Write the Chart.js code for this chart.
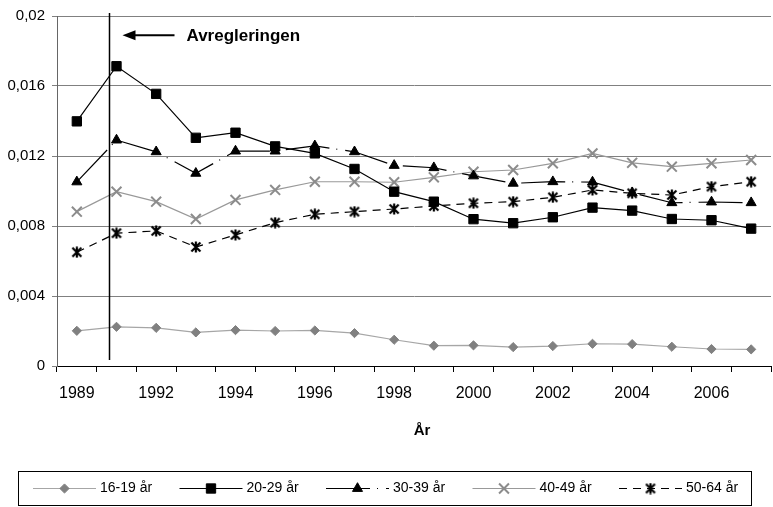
<!DOCTYPE html>
<html>
<head>
<meta charset="utf-8">
<script src="https://cdn.jsdelivr.net/npm/chart.js@4/dist/chart.umd.min.js"></script>
<style>
  html, body { margin: 0; padding: 0; background: #fff; overflow: hidden; }
  #wrap { width: 780px; height: 507px; }
</style>
</head>
<body>
<div id="wrap"><canvas id="chart" width="780" height="507"></canvas></div>
<script>
// years (1990 missing in the source series)
const years = ['1989', '1991', '1992', '1993', '1994', '1995', '1996', '1997', '1998',
    '1999', '2000', '2001', '2002', '2003', '2004', '2005', '2006', '2007'];

const age16_19 = [0.00201, 0.00224, 0.00218, 0.00192, 0.00205, 0.00200, 0.00203, 0.00188, 0.00150,
    0.00116, 0.00118, 0.00108, 0.00114, 0.00127, 0.00125, 0.00110, 0.00097, 0.00095];
const age20_29 = [0.01398, 0.01713, 0.01555, 0.01304, 0.01333, 0.01255, 0.01215, 0.01126, 0.00996,
    0.00939, 0.00839, 0.00816, 0.00850, 0.00905, 0.00888, 0.00840, 0.00833, 0.00785];
const age30_39 = [0.01052, 0.01291, 0.01224, 0.01101, 0.01228, 0.01228, 0.01258, 0.01224, 0.01146,
    0.01133, 0.01086, 0.01044, 0.01053, 0.01051, 0.00990, 0.00933, 0.00937, 0.00933];
const age40_49 = [0.00882, 0.00996, 0.00939, 0.00840, 0.00949, 0.01006, 0.01053, 0.01053, 0.01050,
    0.01078, 0.01110, 0.01120, 0.01158, 0.01215, 0.01161, 0.01139, 0.01158, 0.01177];
const age50_64 = [0.00650, 0.00759, 0.00772, 0.00680, 0.00749, 0.00819, 0.00867, 0.00882, 0.00897,
    0.00914, 0.00930, 0.00939, 0.00964, 0.01006, 0.00987, 0.00977, 0.01025, 0.01053];

const yTicks = [0, 0.004, 0.008, 0.012, 0.016, 0.02];

// deregulation marker sits between 1989 and 1991 (as category fraction)
const reformAt = 0.82;
const reformLabel = 'Avregleringen';

const FONT = '"Liberation Sans", Arial, sans-serif';

// excel-ish asterisk marker: X plus vertical bar
function makeStar(size, color) {
    const c = document.createElement('canvas');
    c.width = size; c.height = size;
    const g = c.getContext('2d');
    g.strokeStyle = color;
    g.lineWidth = 2.2;
    const m = 1.5, e = size - 1.5;
    g.beginPath();
    g.moveTo(m, m); g.lineTo(e, e);
    g.moveTo(e, m); g.lineTo(m, e);
    g.moveTo(size / 2, 0.5); g.lineTo(size / 2, size - 0.5);
    g.stroke();
    return c;
}
const star = makeStar(12, '#000');

const datasets = [
    { label: '16-19 år', data: age16_19, borderColor: '#a6a6a6', borderWidth: 1.2,
      pointStyle: 'rectRot', pointRadius: 4.6, pointBackgroundColor: '#808080', pointBorderColor: '#808080', pointBorderWidth: 1 },
    { label: '20-29 år', data: age20_29, borderColor: '#000', borderWidth: 1.2,
      pointStyle: 'rect', pointRadius: 6.6, pointBackgroundColor: '#000', pointBorderColor: '#000', pointBorderWidth: 1 },
    { label: '30-39 år', data: age30_39, borderColor: '#000', borderWidth: 1.2, borderDash: [44, 7, 1, 8],
      pointStyle: 'triangle', pointRadius: 5.8, pointBackgroundColor: '#000', pointBorderColor: '#000', pointBorderWidth: 1 },
    { label: '40-49 år', data: age40_49, borderColor: '#999', borderWidth: 1.2,
      pointStyle: 'crossRot', pointRadius: 7, pointBackgroundColor: '#8c8c8c', pointBorderColor: '#8c8c8c', pointBorderWidth: 2 },
    { label: '50-64 år', data: age50_64, borderColor: '#000', borderWidth: 1.2, borderDash: [8, 6],
      pointStyle: star, pointRadius: 6, pointBackgroundColor: '#000', pointBorderColor: '#000', pointBorderWidth: 1 }
];
datasets.forEach(d => { d.fill = false; d.tension = 0; d.pointHoverRadius = d.pointRadius; });

const extras = {
    id: 'extras',
    afterDraw(chart) {
        const ctx = chart.ctx;
        const xs = chart.scales.x, ys = chart.scales.y;
        const area = chart.chartArea;
        ctx.save();

        // deregulation line
        const x0 = xs.getPixelForValue(0), x1 = xs.getPixelForValue(1);
        const lx = Math.round(x0 + (x1 - x0) * reformAt) + 0.5;
        ctx.strokeStyle = '#000';
        ctx.lineWidth = 1.5;
        ctx.beginPath();
        ctx.moveTo(lx, area.top - 3);
        ctx.lineTo(lx, area.bottom - 6);
        ctx.stroke();

        // arrow + label
        const ay = ys.getPixelForValue(0.0189);
        const tip = lx + 13, tail = lx + 65;
        ctx.lineWidth = 2;
        ctx.beginPath();
        ctx.moveTo(tip + 10, ay);
        ctx.lineTo(tail, ay);
        ctx.stroke();
        ctx.fillStyle = '#000';
        ctx.beginPath();
        ctx.moveTo(tip, ay);
        ctx.lineTo(tip + 13, ay - 5);
        ctx.lineTo(tip + 13, ay + 5);
        ctx.closePath();
        ctx.fill();
        ctx.font = 'bold 17px ' + FONT;
        ctx.textBaseline = 'middle';
        ctx.textAlign = 'left';
        ctx.fillText(reformLabel, tail + 12, ay + 1);

        // x axis title
        ctx.font = 'bold 15px ' + FONT;
        ctx.textAlign = 'center';
        ctx.fillText('År', (area.left + area.right) / 2 + 8, area.bottom + 65);

        // legend box
        ctx.lineWidth = 1;
        ctx.strokeStyle = '#000';
        ctx.strokeRect(18.5, 471.5, 733, 34);
        const ly = 488.5;
        ctx.font = '14px ' + FONT;
        ctx.textAlign = 'left';
        chart.data.datasets.forEach((d, i) => {
            const sx = 33 + i * 146.5;
            ctx.strokeStyle = d.borderColor;
            ctx.lineWidth = d.borderWidth;
            ctx.setLineDash(d.borderDash || []);
            ctx.beginPath();
            ctx.moveTo(sx, ly);
            ctx.lineTo(sx + 63, ly);
            ctx.stroke();
            ctx.setLineDash([]);
            ctx.fillStyle = d.pointBackgroundColor;
            ctx.strokeStyle = d.pointBorderColor;
            ctx.lineWidth = d.pointBorderWidth;
            Chart.helpers.drawPoint(ctx, { pointStyle: d.pointStyle, radius: d.pointRadius, rotation: 0, borderWidth: d.pointBorderWidth }, sx + 31.5, ly);
            ctx.fillStyle = '#000';
            ctx.fillText(d.label, sx + 67, ly);
        });
        ctx.restore();
    }
};

new Chart(document.getElementById('chart').getContext('2d'), {
    type: 'line',
    data: { labels: years, datasets },
    plugins: [extras],
    options: {
        responsive: false,
        animation: false,
        layout: { padding: { top: 16, right: 3, left: 0, bottom: 0 } },
        plugins: { legend: { display: false }, tooltip: { enabled: false } },
        scales: {
            x: {
                offset: true,
                grid: { offset: true, drawOnChartArea: false, drawTicks: true, tickLength: 6, color: '#000' },
                border: { color: '#000', width: 1 },
                ticks: {
                    autoSkip: false, maxRotation: 0, padding: 12, color: '#000',
                    font: { family: FONT, size: 16 },
                    callback: (v, i) => (i % 2 === 0 ? years[i] : '')
                },
                afterFit: s => { s.height = 141; }
            },
            y: {
                min: 0, max: 0.02,
                afterBuildTicks: s => { s.ticks = yTicks.map(v => ({ value: v })); },
                grid: { color: '#808080', tickLength: 5, lineWidth: 1 },
                border: { color: '#666', width: 1 },
                ticks: {
                    padding: 7, color: '#000',
                    font: { family: FONT, size: 15 },
                    callback: v => String(parseFloat(v.toFixed(4))).replace('.', ',')
                },
                afterFit: s => { s.width = 57; }
            }
        }
    }
});
</script>
</body>
</html>
